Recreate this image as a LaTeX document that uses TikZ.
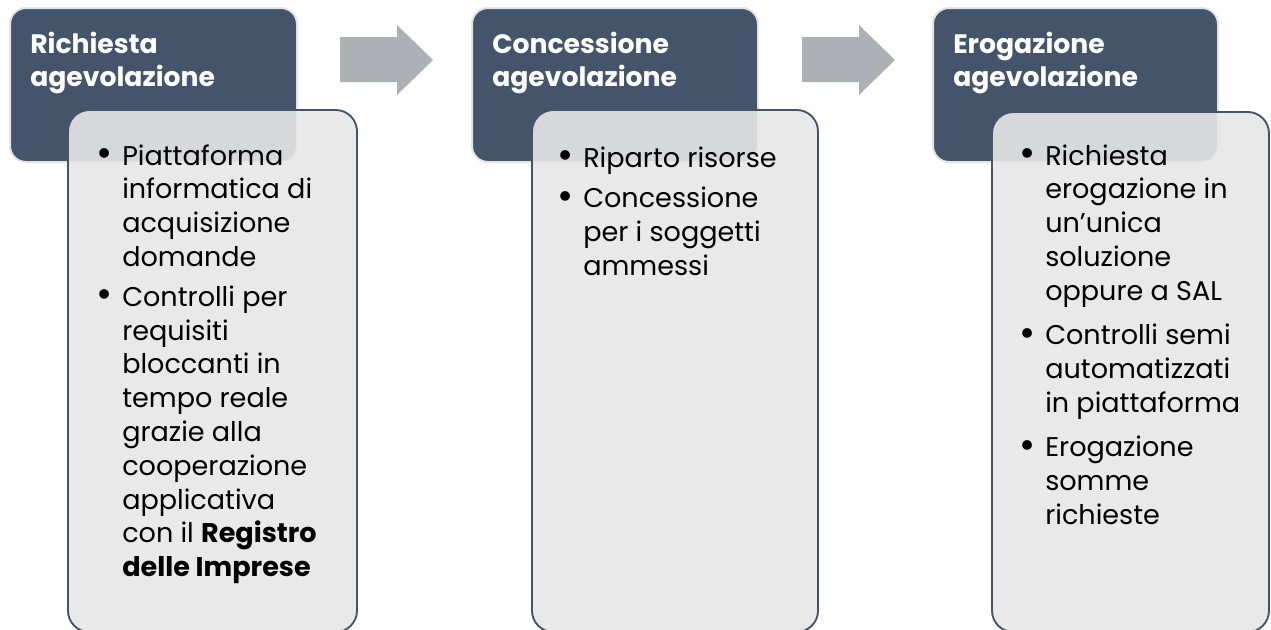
\documentclass[tikz,border=0pt]{standalone}
\usepackage{fontspec}
\usepackage{graphicx}
\setmainfont{Poppins}
\definecolor{darkc}{HTML}{44546A}
\definecolor{lightc}{HTML}{E7E7E7}
\definecolor{edgec}{HTML}{E4E4E4}
\definecolor{arrc}{HTML}{ADB0B5}
\newcommand{\bul}{\llap{\raisebox{-0.12ex}{\scalebox{1.45}{\textbullet}}\hspace{7pt}}}
\newcommand{\lines}[1]{\begin{tabular}[t]{@{}l@{}}#1\end{tabular}}
\begin{document}
\begin{tikzpicture}[x=0.75pt,y=-0.75pt,
  darkbox/.style={fill=darkc, draw=edgec, line width=1.5pt, rounded corners=12pt},
  lightbox/.style={fill=lightc, fill opacity=0.9, draw=darkc, line width=1.4pt, rounded corners=16pt},
  arrowshape/.style={fill=arrc},
  titletext/.style={anchor=base west, inner sep=0pt, text=white,
     font=\bfseries\fontsize{20}{24.75}\selectfont},
  bodytext/.style={anchor=base west, inner sep=0pt, text=black,
     font=\fontsize{20.3}{25.35}\selectfont}]
\useasboundingbox (0,0) rectangle (1271,629);
\clip (0,0) rectangle (1271,629);
% box 1
\path[darkbox] (10,8) rectangle (297,162);
\node[titletext] (t1) at (30,53) {\lines{Richiesta\\agevolazione}};
\path[lightbox] (68,110) rectangle (357,632);
\node[bodytext] (b1) at (122,165) {\lines{\bul Piattaforma\\informatica di\\acquisizione\\domande\\[4.5pt]\bul Controlli per\\requisiti\\bloccanti in\\tempo reale\\grazie alla\\cooperazione\\applicativa\\con il \textbf{Registro}\\\textbf{delle Imprese}}};
% arrow 1
\path[arrowshape] (340,37) -- (397,37) -- (397,25) -- (433,60) -- (397,95) -- (397,82) -- (340,82) -- cycle;
% box 2
\path[darkbox] (472,8) rectangle (758,162);
\node[titletext] (t2) at (492,53) {\lines{Concessione\\agevolazione}};
\path[lightbox] (532,110) rectangle (818,632);
\node[bodytext] (b2) at (583,167) {\lines{\bul Riparto risorse\\[5pt]\bul Concessione\\per i soggetti\\ammessi}};
% arrow 2
\path[arrowshape] (802,37) -- (859,37) -- (859,25) -- (895,60) -- (859,95) -- (859,82) -- (802,82) -- cycle;
% box 3
\path[darkbox] (933,8) rectangle (1218,162);
\node[titletext] (t3) at (953,53) {\lines{Erogazione\\agevolazione}};
\path[lightbox] (992,112) rectangle (1269,632);
\node[bodytext] (b3) at (1045,165) {\lines{\bul Richiesta\\erogazione in\\un’unica\\soluzione\\oppure a SAL\\[8pt]\bul Controlli semi\\automatizzati\\in piattaforma\\[8pt]\bul Erogazione\\somme\\richieste}};
\end{tikzpicture}
\end{document}
